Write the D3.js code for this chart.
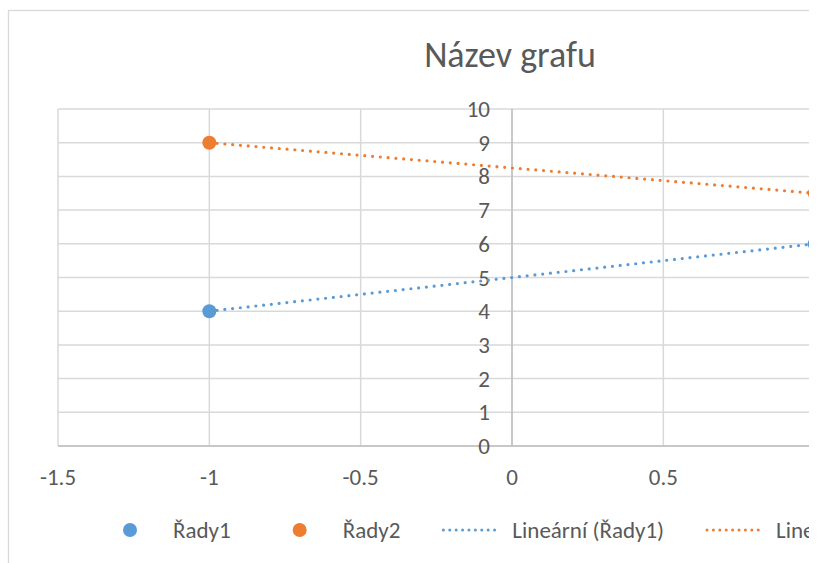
<!DOCTYPE html>
<html>
<head>
<meta charset="utf-8">
<script src="https://cdn.jsdelivr.net/npm/d3@7"></script>
<style>
  body { margin: 0; background: #fff; }
  svg { display: block; font-family: Carlito, Calibri, "Open Sans", sans-serif; }
</style>
</head>
<body>
<svg id="chart" width="820" height="563"></svg>
<script>
// chart data
var chartTitle = "Název grafu";
var xValues = [-1, 1];
var rady1 = [4, 6];
var rady2 = [9, 7.5];
var seriesNames = ["Řady1", "Řady2"];
var trendNames = ["Lineární (Řady1)", "Lineární (Řady2)"];
var colors = ["#5b9bd5", "#ed7d31"];
var xTicks = [-1.5, -1, -0.5, 0, 0.5, 1, 1.5];
var yTicks = [0, 1, 2, 3, 4, 5, 6, 7, 8, 9, 10];

var svg = d3.select("#chart");
var clipW = 809;
var textColor = "#595959";

svg.append("defs").append("clipPath").attr("id", "cut")
  .append("rect").attr("x", 0).attr("y", 0).attr("width", clipW).attr("height", 563);

var g = svg.append("g").attr("clip-path", "url(#cut)");

// chart area border (the picture is cut on the right)
g.append("rect")
  .attr("x", 8.5).attr("y", 10.5)
  .attr("width", 1000).attr("height", 600)
  .style("fill", "#fff").style("stroke", "#d9d9d9").style("stroke-width", 1.3);

var x = d3.scaleLinear().domain([-1.5, 1.5]).range([58, 966]);
var y = d3.scaleLinear().domain([0, 10]).range([446, 109]);

// title
g.append("text")
  .attr("x", 510).attr("y", 67)
  .attr("text-anchor", "middle")
  .style("font-size", "36px").style("fill", textColor)
  .text(chartTitle);

// gridlines
g.selectAll("line.hgrid").data(yTicks).enter().append("line")
  .attr("x1", x(-1.5)).attr("x2", x(1.5))
  .attr("y1", function(d) { return y(d); }).attr("y2", function(d) { return y(d); })
  .style("stroke", "#d9d9d9").style("stroke-width", 1.5);
g.selectAll("line.vgrid").data(xTicks).enter().append("line")
  .attr("x1", function(d) { return x(d); }).attr("x2", function(d) { return x(d); })
  .attr("y1", y(10)).attr("y2", y(0))
  .style("stroke", "#d9d9d9").style("stroke-width", 1.5);

// axis lines
g.append("line")
  .attr("x1", x(0)).attr("x2", x(0)).attr("y1", y(10)).attr("y2", y(0))
  .style("stroke", "#bfbfbf").style("stroke-width", 1.5);
g.append("line")
  .attr("x1", x(-1.5)).attr("x2", x(1.5)).attr("y1", y(0)).attr("y2", y(0))
  .style("stroke", "#bfbfbf").style("stroke-width", 1.5);

// tick labels
g.selectAll("text.ylab").data(yTicks).enter().append("text")
  .attr("x", x(0) - 22).attr("y", function(d) { return y(d); })
  .attr("dy", "0.35em").attr("text-anchor", "end")
  .style("font-size", "23px").style("fill", textColor)
  .text(function(d) { return d; });
// only the labels that fall inside the visible part
g.selectAll("text.xlab").data(xTicks.filter(function(d) { return x(d) < clipW - 10; }))
  .enter().append("text")
  .attr("x", function(d) { return x(d); }).attr("y", 477)
  .attr("dy", "0.35em").attr("text-anchor", "middle")
  .style("font-size", "23px").style("fill", textColor)
  .text(function(d) { return d; });

// linear trend (least squares) for each series
function fit(xs, ys) {
  var mx = d3.mean(xs), my = d3.mean(ys);
  var num = d3.sum(xs, function(v, i) { return (v - mx) * (ys[i] - my); });
  var den = d3.sum(xs, function(v) { return (v - mx) * (v - mx); });
  var b = num / den;
  return function(v) { return my + b * (v - mx); };
}

var allSeries = [rady1, rady2];
allSeries.forEach(function(vals, si) {
  var f = fit(xValues, vals);
  var ext = d3.extent(xValues);
  g.append("line")
    .attr("x1", x(ext[0])).attr("y1", y(f(ext[0])))
    .attr("x2", x(ext[1])).attr("y2", y(f(ext[1])))
    .style("stroke", colors[si]).style("stroke-width", 3.2)
    .style("stroke-linecap", "round").style("stroke-dasharray", "0 7.8");
});
allSeries.forEach(function(vals, si) {
  g.selectAll("circle.s" + si).data(vals).enter().append("circle")
    .attr("cx", function(d, i) { return x(xValues[i]); })
    .attr("cy", function(d) { return y(d); })
    .attr("r", 7)
    .style("fill", colors[si]);
});

// legend, laid out left to right
var legY = 530;
var symW = 56, symGap = 15, entryGap = 41;
var cursor = 102;
var legend = g.append("g");
var entries = [];
seriesNames.forEach(function(n, i) { entries.push({name: n, color: colors[i], kind: "dot"}); });
trendNames.forEach(function(n, i) { entries.push({name: n, color: colors[i], kind: "line"}); });

entries.forEach(function(e) {
  if (e.kind == "dot") {
    legend.append("circle").attr("cx", cursor + symW / 2).attr("cy", legY).attr("r", 7)
      .style("fill", e.color);
  } else {
    legend.append("line")
      .attr("x1", cursor + 2).attr("x2", cursor + symW).attr("y1", legY).attr("y2", legY)
      .style("stroke", e.color).style("stroke-width", 3)
      .style("stroke-linecap", "round").style("stroke-dasharray", "0 6.4");
  }
  var t = legend.append("text").attr("x", cursor + symW + symGap).attr("y", legY).attr("dy", "0.35em")
    .style("font-size", "23px").style("fill", textColor).text(e.name);
  cursor += symW + symGap + t.node().getComputedTextLength() + entryGap;
});
</script>
</body>
</html>
